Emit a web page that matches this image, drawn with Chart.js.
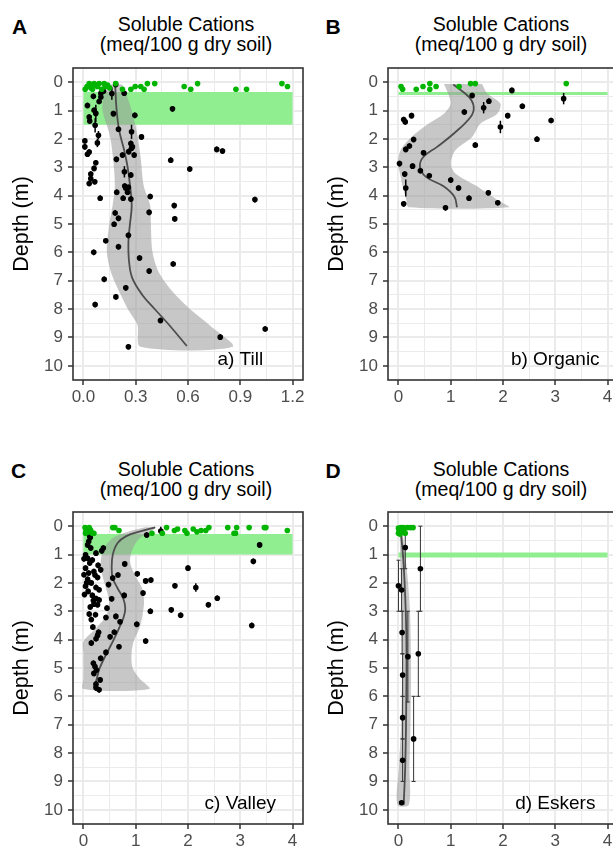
<!DOCTYPE html>
<html>
<head>
<meta charset="utf-8">
<script src="https://cdn.jsdelivr.net/npm/chart.js@4"></script>
<style>
html, body { margin: 0; padding: 0; overflow: hidden; background: #fff; }
body { position: relative; width: 613px; height: 852px; font-family: "Liberation Sans", Arial, sans-serif; color: #000; }
canvas { position: absolute; }
.letter { position: absolute; font-weight: bold; font-size: 21px; line-height: 21px; }
.title { position: absolute; width: 300px; text-align: center; font-size: 19.5px; line-height: 20px; white-space: nowrap; }
</style>
</head>
<body>
<div class="letter" style="left:12px;top:15.5px">A</div>
<div class="letter" style="left:325.5px;top:15.5px">B</div>
<div class="letter" style="left:11px;top:460px">C</div>
<div class="letter" style="left:325.5px;top:460px">D</div>
<div class="title" style="left:36px;top:14px">Soluble Cations<br>(meq/100 g dry soil)</div>
<div class="title" style="left:351px;top:14px">Soluble Cations<br>(meq/100 g dry soil)</div>
<div class="title" style="left:36px;top:459px">Soluble Cations<br>(meq/100 g dry soil)</div>
<div class="title" style="left:351px;top:459px">Soluble Cations<br>(meq/100 g dry soil)</div>
<canvas id="chartA" width="310" height="360" style="left:0;top:60px;width:310px;height:360px"></canvas>
<canvas id="chartB" width="310" height="360" style="left:315px;top:60px;width:310px;height:360px"></canvas>
<canvas id="chartC" width="310" height="360" style="left:0;top:504px;width:310px;height:360px"></canvas>
<canvas id="chartD" width="310" height="360" style="left:315px;top:504px;width:310px;height:360px"></canvas>
<script>
// tick labels
const depthTicks = [0, 1, 2, 3, 4, 5, 6, 7, 8, 9, 10];
const xTicksTill = [0, 0.3, 0.6, 0.9, 1.2];
const xTicksWide = [0, 1, 2, 3, 4];

// ---- a) Till ----
const aGreenValue = [0.033, 0.042, 0.061, 0.080, 0.090, 0.119, 0.138, 0.052, 0.105, 0.020, 0.070, 0.010, 0.150, 0.045, 0.125, 0.185, 0.224, 0.272, 0.297, 0.329, 0.348, 0.367, 0.409, 0.578, 0.616, 0.655, 0.875, 0.936, 1.139, 1.171];
const aGreenDepth = [0.05, 0.20, 0.05, 0.15, 0.05, 0.05, 0.10, 0.25, 0.25, 0.15, 0.10, 0.25, 0.20, 0.10, 0.15, 0.05, 0.25, 0.25, 0.15, 0.15, 0.25, 0.05, 0.05, 0.15, 0.25, 0.05, 0.25, 0.25, 0.05, 0.15];
const aValue = [0.115, 0.163, 0.185, 0.234, 0.100, 0.057, 0.100, 0.090, 0.023, 0.061,
  0.071, 0.033, 0.036, 0.067, 0.086, 0.080, 0.008, 0.008, 0.033, 0.023,
  0.071, 0.061, 0.042, 0.042, 0.065, 0.033, 0.511, 0.295, 0.172, 0.201,
  0.333, 0.276, 0.272, 0.281, 0.276, 0.260, 0.291, 0.224, 0.189, 0.235,
  0.272, 0.237, 0.258, 0.501, 0.610, 0.765, 0.798, 0.096, 0.191, 0.228,
  0.253, 0.272, 0.383, 0.521, 0.524, 0.377, 0.182, 0.201, 0.176, 0.258,
  0.128, 0.201, 0.059, 0.322, 0.515, 0.377, 0.119, 0.243, 0.186, 0.067,
  0.442, 0.785, 1.043, 0.258, 0.984, 0.243];
const aDepth = [0.32, 0.40, 0.08, 0.39, 0.39, 0.50, 0.52, 0.68, 0.82, 0.99,
  1.10, 1.23, 1.37, 1.52, 1.87, 2.14, 2.07, 2.28, 2.46, 2.54,
  2.84, 3.04, 3.24, 3.40, 3.51, 3.57, 0.94, 1.17, 1.11, 1.66,
  1.93, 1.75, 2.16, 2.28, 2.33, 2.45, 2.57, 2.57, 2.72, 3.16,
  3.27, 3.66, 3.71, 2.75, 3.06, 2.37, 2.43, 4.09, 3.88, 4.09,
  3.88, 4.12, 4.03, 4.35, 4.82, 4.59, 4.61, 4.80, 5.01, 5.40,
  5.59, 5.80, 6.00, 6.20, 6.41, 6.66, 6.95, 7.25, 7.57, 7.84,
  8.40, 8.99, 8.70, 9.33, 4.14, 3.74];
const aErr = [0.1, 0.22, 0.1, 0.1, 0.1, 0.1, 0.1, 0.1, 0.1, 0.1,
  0.3, 0.1, 0.1, 0.25, 0.15, 0.15, 0.1, 0.1, 0.1, 0.1,
  0.1, 0.1, 0.1, 0.1, 0.1, 0.1, 0.1, 0.1, 0.1, 0.1,
  0.1, 0.25, 0.1, 0.1, 0.1, 0.1, 0.1, 0.1, 0.1, 0.2,
  0.1, 0.1, 0.1, 0.1, 0.1, 0.1, 0.1, 0.1, 0.1, 0.1,
  0.1, 0.1, 0.1, 0.1, 0.1, 0.1, 0.1, 0.1, 0.1, 0.1,
  0.1, 0.1, 0.1, 0.1, 0.1, 0.1, 0.1, 0.1, 0.1, 0.1,
  0.1, 0.1, 0.1, 0.1, 0.1, 0.1];
const aSmoothDepth = [0.08, 0.88, 1.70, 2.40, 2.98, 3.68, 4.35, 5.05, 5.64, 6.34, 6.92, 7.51, 7.98, 8.56, 9.30];
const aSmoothValue = [0.182, 0.189, 0.205, 0.234, 0.253, 0.268, 0.277, 0.266, 0.258, 0.262, 0.281, 0.339, 0.406, 0.492, 0.593];
const aRibbonDepth = [0.08, 0.50, 1.00, 1.87, 2.70, 3.66, 4.35, 5.05, 5.98, 6.68, 7.38, 8.08, 8.56, 9.33];
const aRibbonLow = [0.150, 0.115, 0.110, 0.151, 0.170, 0.180, 0.167, 0.147, 0.134, 0.157, 0.205, 0.262, 0.310, 0.329];
const aRibbonHigh = [0.222, 0.250, 0.277, 0.310, 0.329, 0.346, 0.383, 0.387, 0.396, 0.431, 0.511, 0.626, 0.722, 0.855];
const aGreenBand = [0.35, 1.5];
const aGreenBandX = [0, 1.2];

// ---- b) Organic ----
const bGreenValue = [0.05, 0.08, 0.34, 0.47, 0.60, 0.60, 0.72, 1.16, 1.38, 1.47, 3.21];
const bGreenDepth = [0.15, 0.25, 0.25, 0.15, 0.05, 0.25, 0.15, 0.15, 0.05, 0.05, 0.05];
const bValue = [2.17, 1.41, 1.73, 1.63, 1.26, 2.37, 3.16, 2.09, 2.92, 1.95, 0.25, 0.10, 0.13, 0.29, 0.21, 0.14,
  1.47, 2.65, 0.48, 0.02, 0.27, 0.42, 0.59, 0.12, 1.00, 1.15, 0.14, 1.72, 1.35, 1.90, 0.10, 0.90];
const bDepth = [0.29, 0.47, 0.67, 0.90, 1.05, 0.85, 0.58, 1.18, 1.35, 1.58, 1.18, 1.32, 1.40, 2.02, 2.25, 2.37,
  2.22, 2.01, 2.49, 2.87, 2.96, 3.12, 3.30, 3.24, 3.45, 3.73, 3.73, 3.90, 4.09, 4.25, 4.29, 4.43];
const bErr = [0.1, 0.1, 0.1, 0.2, 0.1, 0.1, 0.2, 0.1, 0.1, 0.22, 0.1, 0.1, 0.1, 0.1, 0.1, 0.1,
  0.1, 0.1, 0.1, 0.1, 0.1, 0.1, 0.1, 0.1, 0.1, 0.1, 0.3, 0.1, 0.1, 0.1, 0.1, 0.1];
const bSmoothDepth = [0.08, 0.53, 0.88, 1.23, 1.81, 2.28, 2.63, 2.98, 3.33, 3.68, 4.04, 4.41];
const bSmoothValue = [1.05, 1.35, 1.44, 1.38, 1.06, 0.74, 0.48, 0.41, 0.52, 0.87, 1.07, 1.12];
const bRibbonDepth = [0.06, 0.40, 0.76, 1.11, 1.46, 1.93, 2.40, 2.87, 3.22, 3.68, 4.15, 4.41];
const bRibbonLow = [0.87, 0.95, 1.00, 0.87, 0.58, 0.25, 0.04, -0.01, 0.03, 0.08, 0.15, 0.20];
const bRibbonHigh = [1.60, 1.70, 1.95, 1.89, 1.57, 1.41, 1.09, 1.00, 1.09, 1.51, 1.89, 2.11];
const bGreenBand = [0.35, 0.45];
const bGreenBandX = [0, 4];

// ---- c) Valley ----
const cGreenValue = [0.03, 0.06, 0.08, 0.11, 0.14, 0.17, 0.04, 0.10, 0.20, 0.05, 0.12, 0.56, 0.60, 0.68, 1.31, 1.51, 1.59,
  1.74, 1.80, 1.94, 1.98, 2.10, 2.17, 2.25, 2.34, 2.40, 2.76, 2.88, 2.93, 2.91, 3.17, 3.46, 3.49, 3.90];
const cGreenDepth = [0.05, 0.10, 0.20, 0.05, 0.15, 0.25, 0.25, 0.20, 0.25, 0.15, 0.10, 0.05, 0.05, 0.15, 0.25, 0.25, 0.05,
  0.15, 0.10, 0.15, 0.25, 0.10, 0.20, 0.15, 0.15, 0.05, 0.05, 0.25, 0.05, 0.25, 0.05, 0.05, 0.05, 0.15];
const cValue = [1.48, 1.21, 0.12, 0.10, 0.08, 0.14, 0.38, 0.35, 0.24, 0.04,
  0.08, 0.01, 0.17, 3.37, 3.25, 0.79, 2.00, 0.04, 0.20, 1.03,
  0.33, 0.01, 0.27, 0.08, 0.66, 0.56, 1.19, 1.29, 0.04, 0.24,
  0.30, 0.48, 1.75, 2.15, 1.14, 0.02, 0.17, 0.24, 0.54, 2.56,
  2.39, 0.78, 0.20, 0.27, 0.45, 1.68, 1.28, 1.86, 0.11, 0.23,
  0.62, 0.43, 3.22, 0.18, 0.29, 0.59, 0.27, 0.24, 0.15, 1.19,
  0.51, 0.68, 0.15, 0.70, 1.02, 0.43, 0.33, 0.19, 0.22, 0.25,
  0.20, 0.32, 0.24, 0.30, 0.24, 0.12, 0.10, 0.15, 0.09, 0.19,
  0.13, 0.28, 0.22, 0.30, 0.06, 0.13];
const cDepth = [0.17, 0.31, 0.36, 0.54, 0.66, 0.77, 0.77, 0.87, 0.95, 1.01,
  1.13, 1.15, 1.19, 0.66, 1.24, 1.33, 1.48, 1.48, 1.60, 1.68,
  1.54, 1.71, 1.81, 1.87, 1.72, 1.83, 1.93, 1.90, 2.12, 2.16,
  2.24, 2.06, 2.10, 2.16, 2.36, 2.41, 2.44, 2.55, 2.56, 2.54,
  2.77, 2.44, 2.75, 2.77, 2.89, 2.95, 3.00, 3.14, 3.10, 3.12,
  3.18, 3.22, 3.50, 3.56, 3.74, 3.74, 3.85, 3.97, 4.12, 4.05,
  3.90, 4.25, 3.29, 3.37, 3.46, 4.45, 4.66, 4.83, 4.95, 5.07,
  5.19, 5.42, 5.57, 5.77, 5.70, 1.30, 1.65, 2.00, 2.30, 2.62,
  2.85, 1.38, 1.72, 2.60, 2.00, 0.40];
const cErr = [0.15, 0.1, 0.1, 0.1, 0.1, 0.1, 0.1, 0.1, 0.1, 0.1,
  0.1, 0.1, 0.1, 0.1, 0.1, 0.1, 0.1, 0.1, 0.1, 0.1,
  0.1, 0.1, 0.1, 0.1, 0.1, 0.1, 0.1, 0.1, 0.1, 0.1,
  0.1, 0.1, 0.1, 0.15, 0.1, 0.1, 0.1, 0.1, 0.1, 0.1,
  0.1, 0.1, 0.1, 0.1, 0.1, 0.1, 0.1, 0.1, 0.1, 0.1,
  0.1, 0.1, 0.1, 0.1, 0.1, 0.1, 0.1, 0.1, 0.1, 0.1,
  0.1, 0.1, 0.1, 0.1, 0.1, 0.1, 0.1, 0.1, 0.1, 0.1,
  0.1, 0.1, 0.1, 0.1, 0.1, 0.1, 0.1, 0.1, 0.1, 0.1,
  0.1, 0.1, 0.1, 0.1, 0.1, 0.1];
const cSmoothDepth = [0.04, 0.19, 0.36, 0.60, 1.01, 1.48, 1.83, 2.18, 2.54, 2.89, 3.20, 3.60, 4.07, 4.54, 5.01, 5.48, 5.71];
const cSmoothValue = [1.37, 1.07, 0.81, 0.65, 0.56, 0.54, 0.56, 0.65, 0.76, 0.80, 0.77, 0.68, 0.56, 0.43, 0.31, 0.24, 0.20];
const cRibbonDepth = [0.04, 0.19, 0.42, 0.77, 1.24, 1.71, 2.18, 2.65, 3.13, 3.60, 4.07, 4.50, 5.00, 5.36, 5.74];
const cRibbonLow = [1.18, 0.87, 0.56, 0.40, 0.33, 0.36, 0.43, 0.49, 0.44, 0.24, 0.00, 0.00, 0.00, 0.00, 0.00];
const cRibbonHigh = [1.40, 1.29, 1.08, 0.95, 0.89, 0.98, 1.12, 1.16, 1.13, 1.07, 0.96, 0.92, 0.94, 1.07, 1.26];
const cGreenBand = [0.28, 1.0];
const cGreenBandX = [0, 4];

// ---- d) Eskers ----
const dGreenValue = [0.00, 0.01, 0.03, 0.05, 0.09, 0.13, 0.17, 0.23, 0.28, 0.02, 0.06, 0.10, 0.00, 0.04];
const dGreenDepth = [0.07, 0.19, 0.28, 0.05, 0.05, 0.25, 0.05, 0.05, 0.05, 0.13, 0.20, 0.15, 0.25, 0.10];
const dValue = [0.13, 0.42, 0.00, 0.06, 0.07, 0.18, 0.38, 0.08, 0.08, 0.29, 0.08, 0.06];
const dDepth = [0.75, 1.50, 2.10, 2.25, 3.75, 4.60, 4.50, 5.25, 6.75, 7.50, 8.25, 9.75];
const dTop = [0.0, 0.0, 1.2, 1.5, 3.0, 3.0, 3.0, 4.5, 6.0, 6.0, 7.5, 9.75];
const dBottom = [1.5, 3.0, 3.0, 3.0, 4.5, 6.2, 6.0, 6.0, 7.5, 9.0, 9.0, 9.75];
const dSmoothDepth = [0.07, 1.38, 3.73, 6.08, 8.43, 9.82];
const dSmoothValue = [0.04, 0.10, 0.15, 0.15, 0.13, 0.10];
const dRibbonDepth = [0.07, 1.50, 3.00, 5.00, 7.00, 8.50, 9.82];
const dRibbonLow = [0.02, 0.04, 0.06, 0.07, 0.05, 0.01, -0.02];
const dRibbonHigh = [0.07, 0.16, 0.22, 0.24, 0.23, 0.21, 0.20];
const dGreenBand = [0.93, 1.1];
const dGreenBandX = [0, 4];

const FONT = '"Liberation Sans", Arial, sans-serif';

function xy(xs, ys) {
  return xs.map((v, i) => ({ x: v, y: ys[i] }));
}

// rectangle for the green depth band
function bandShape(depthRange, xRange) {
  return [
    { x: xRange[0], y: depthRange[0] }, { x: xRange[1], y: depthRange[0] },
    { x: xRange[1], y: depthRange[1] }, { x: xRange[0], y: depthRange[1] }
  ];
}

// closed outline of the smooth's confidence ribbon
function ribbonShape(depths, low, high) {
  const down = depths.map((d, i) => ({ x: low[i], y: d }));
  const up = depths.map((d, i) => ({ x: high[i], y: d })).reverse();
  return down.concat(up);
}

// major ticks plus ggplot-style minor lines halfway between
function withMinor(major) {
  const out = [];
  major.forEach((v, i) => {
    out.push({ value: v });
    if (i < major.length - 1) out.push({ value: (v + major[i + 1]) / 2, minor: true });
  });
  return out;
}

const errorBars = {
  id: 'errorBars',
  beforeDatasetDraw(chart, args) {
    const ds = chart.data.datasets[args.index];
    if (!ds.errHalf && !ds.errTop) return;
    const xs = chart.scales.x, ys = chart.scales.y, ctx = chart.ctx, a = chart.chartArea;
    const cap = ds.errCap || 0;
    ctx.save();
    ctx.beginPath();
    ctx.rect(a.left, a.top, a.right - a.left, a.bottom - a.top);
    ctx.clip();
    ctx.strokeStyle = ds.errColor;
    ctx.lineWidth = ds.errWidth;
    ds.data.forEach((p, i) => {
      const top = ds.errTop ? ds.errTop[i] : p.y - ds.errHalf[i];
      const bottom = ds.errBottom ? ds.errBottom[i] : p.y + ds.errHalf[i];
      if (top === bottom) return;
      const px = xs.getPixelForValue(p.x);
      const y1 = ys.getPixelForValue(top), y2 = ys.getPixelForValue(bottom);
      ctx.beginPath();
      ctx.moveTo(px, y1); ctx.lineTo(px, y2);
      if (cap) {
        ctx.moveTo(px - cap, y1); ctx.lineTo(px + cap, y1);
        ctx.moveTo(px - cap, y2); ctx.lineTo(px + cap, y2);
      }
      ctx.stroke();
    });
    ctx.restore();
  }
};

const panelFrame = {
  id: 'panelFrame',
  afterDatasetsDraw(chart) {
    const a = chart.chartArea, ctx = chart.ctx;
    ctx.save();
    ctx.strokeStyle = '#333333';
    ctx.lineWidth = 1.6;
    ctx.strokeRect(a.left, a.top, a.right - a.left, a.bottom - a.top);
    ctx.restore();
  }
};

const panelNote = {
  id: 'panelNote',
  afterDatasetsDraw(chart, args, opts) {
    const ctx = chart.ctx;
    ctx.save();
    ctx.font = '19px ' + FONT;
    ctx.fillStyle = '#000';
    ctx.textAlign = 'center';
    ctx.textBaseline = 'middle';
    ctx.fillText(opts.text, chart.scales.x.getPixelForValue(opts.x), chart.scales.y.getPixelForValue(opts.y));
    ctx.restore();
  }
};

const gridOpts = {
  color: '#EBEBEB',
  lineWidth: c => (c.tick && c.tick.minor ? 1 : 2),
  tickLength: 5,
  tickWidth: 1.5,
  tickColor: c => (c.tick && c.tick.minor ? 'rgba(0,0,0,0)' : '#333333')
};

function drawPanel(id, p) {
  new Chart(document.getElementById(id), {
    type: 'scatter',
    data: {
      datasets: [
        { data: bandShape(p.band, p.bandX), showLine: true, fill: 'shape', backgroundColor: '#90EE90',
          borderColor: 'rgba(0,0,0,0)', borderWidth: 0, pointRadius: 0, tension: 0, order: 5 },
        { data: ribbonShape(p.ribbonDepth, p.ribbonLow, p.ribbonHigh), showLine: true, fill: 'shape',
          backgroundColor: 'rgba(153,153,153,0.55)', borderColor: 'rgba(0,0,0,0)', borderWidth: 0,
          pointRadius: 0, tension: 0.3, order: 4 },
        { data: xy(p.smoothValue, p.smoothDepth), showLine: true, borderColor: '#4D4D4D', borderWidth: 1.8,
          pointRadius: 0, tension: 0.4, fill: false, order: 2 },
        { data: xy(p.value, p.depth), errHalf: p.err, errTop: p.errTop, errBottom: p.errBottom,
          errColor: p.errColor, errWidth: p.errWidth, errCap: p.errCap,
          pointRadius: 2.8, backgroundColor: '#000', borderWidth: 0, order: 1 },
        { data: xy(p.greenValue, p.greenDepth), pointRadius: 2.8, backgroundColor: '#00B400', borderWidth: 0, order: 0 }
      ]
    },
    options: {
      responsive: false,
      animation: false,
      devicePixelRatio: 1,
      layout: { padding: { top: 8, right: 7, bottom: 0, left: 0 } },
      plugins: {
        legend: { display: false },
        tooltip: { enabled: false },
        panelNote: p.note
      },
      scales: {
        x: {
          type: 'linear',
          min: p.xMin,
          max: p.xMax,
          afterBuildTicks: s => { s.ticks = withMinor(p.xTicks); },
          afterFit: s => { s.height = 40; s.paddingLeft = 0; s.paddingRight = 0; },
          ticks: {
            autoSkip: false, maxRotation: 0, padding: 2, color: '#4D4D4D',
            font: { family: FONT, size: 17 },
            callback: (v, i, t) => (t[i].minor ? '' : p.xFormat(v))
          },
          grid: gridOpts,
          border: { display: false }
        },
        y: {
          type: 'linear',
          reverse: true,
          min: -0.5,
          max: 10.5,
          afterBuildTicks: s => { s.ticks = withMinor(depthTicks); },
          afterFit: s => { s.width = 73; s.paddingTop = 0; s.paddingBottom = 0; },
          title: {
            display: true, text: 'Depth (m)', color: '#000',
            font: { family: FONT, size: 21.5 }, padding: { top: 9, bottom: 0 }
          },
          ticks: {
            autoSkip: false, padding: 5, color: '#4D4D4D',
            font: { family: FONT, size: 17 },
            callback: (v, i, t) => (t[i].minor ? '' : String(Math.round(v)))
          },
          grid: gridOpts,
          border: { display: false }
        }
      }
    },
    plugins: [errorBars, panelFrame, panelNote]
  });
}

drawPanel('chartA', {
  xMin: -0.06, xMax: 1.26, xTicks: xTicksTill, xFormat: v => v.toFixed(1),
  band: aGreenBand, bandX: aGreenBandX,
  ribbonDepth: aRibbonDepth, ribbonLow: aRibbonLow, ribbonHigh: aRibbonHigh,
  smoothDepth: aSmoothDepth, smoothValue: aSmoothValue,
  value: aValue, depth: aDepth, err: aErr, errColor: '#000', errWidth: 1.5, errCap: 0,
  greenValue: aGreenValue, greenDepth: aGreenDepth,
  note: { text: 'a) Till', x: 0.9, y: 9.8 }
});

drawPanel('chartB', {
  xMin: -0.2, xMax: 4.2, xTicks: xTicksWide, xFormat: v => String(Math.round(v)),
  band: bGreenBand, bandX: bGreenBandX,
  ribbonDepth: bRibbonDepth, ribbonLow: bRibbonLow, ribbonHigh: bRibbonHigh,
  smoothDepth: bSmoothDepth, smoothValue: bSmoothValue,
  value: bValue, depth: bDepth, err: bErr, errColor: '#000', errWidth: 1.5, errCap: 0,
  greenValue: bGreenValue, greenDepth: bGreenDepth,
  note: { text: 'b) Organic', x: 3, y: 9.8 }
});

drawPanel('chartC', {
  xMin: -0.2, xMax: 4.2, xTicks: xTicksWide, xFormat: v => String(Math.round(v)),
  band: cGreenBand, bandX: cGreenBandX,
  ribbonDepth: cRibbonDepth, ribbonLow: cRibbonLow, ribbonHigh: cRibbonHigh,
  smoothDepth: cSmoothDepth, smoothValue: cSmoothValue,
  value: cValue, depth: cDepth, err: cErr, errColor: '#000', errWidth: 1.5, errCap: 0,
  greenValue: cGreenValue, greenDepth: cGreenDepth,
  note: { text: 'c) Valley', x: 3, y: 9.8 }
});

drawPanel('chartD', {
  xMin: -0.2, xMax: 4.2, xTicks: xTicksWide, xFormat: v => String(Math.round(v)),
  band: dGreenBand, bandX: dGreenBandX,
  ribbonDepth: dRibbonDepth, ribbonLow: dRibbonLow, ribbonHigh: dRibbonHigh,
  smoothDepth: dSmoothDepth, smoothValue: dSmoothValue,
  value: dValue, depth: dDepth, errTop: dTop, errBottom: dBottom, errColor: '#333', errWidth: 1, errCap: 2,
  greenValue: dGreenValue, greenDepth: dGreenDepth,
  note: { text: 'd) Eskers', x: 3, y: 9.8 }
});
</script>
</body>
</html>
